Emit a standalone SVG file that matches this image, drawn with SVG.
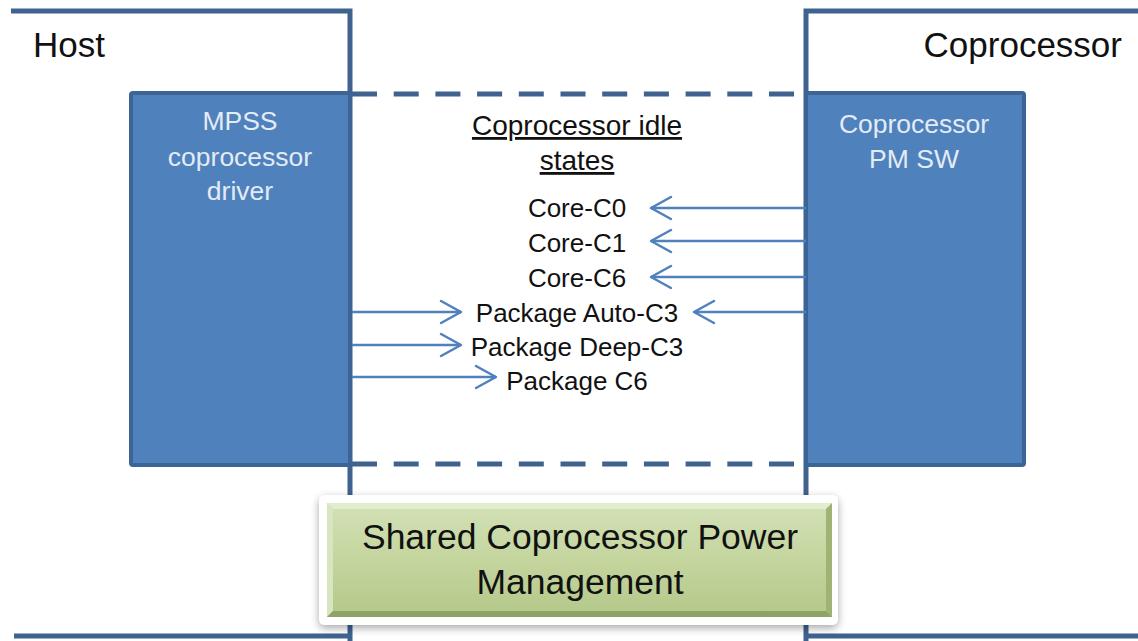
<svg xmlns="http://www.w3.org/2000/svg" width="1138" height="641" viewBox="0 0 1138 641">
<style>
.frame{fill:none;stroke:#3F628F;stroke-width:5}
.box{fill:#4F81BD;stroke:#3C6494;stroke-width:4}
.dash{fill:none;stroke:#3F628F;stroke-width:5;stroke-dasharray:25 16.7}
.conn{fill:none;stroke:#4F81BD;stroke-width:2.5}
.t{font-family:"Liberation Sans",Arial,sans-serif;fill:#111}
.w{font-family:"Liberation Sans",Arial,sans-serif;fill:#E3EBF5;font-size:26.5px;text-anchor:middle}
.m{font-family:"Liberation Sans",Arial,sans-serif;fill:#111;font-size:26px;text-anchor:middle}
</style>
<defs>
<marker id="ah" markerUnits="userSpaceOnUse" markerWidth="30" markerHeight="30" viewBox="-24 -15 28 30" refX="0" refY="0" orient="auto">
<path d="M-20,-11 L0,0 L-20,11" fill="none" stroke="#4F81BD" stroke-width="2.5" stroke-linejoin="round" stroke-linecap="round"/>
</marker>
<linearGradient id="gg" x1="0" y1="0" x2="0" y2="1">
<stop offset="0" stop-color="#D3E1B6"/>
<stop offset="0.5" stop-color="#C4D59E"/>
<stop offset="1" stop-color="#B4C88A"/>
</linearGradient>
<filter id="sh" x="-10%" y="-20%" width="120%" height="150%">
<feGaussianBlur in="SourceAlpha" stdDeviation="4"/>
<feOffset dx="0" dy="3" result="b"/>
<feComponentTransfer><feFuncA type="linear" slope="0.35"/></feComponentTransfer>
<feMerge><feMergeNode/><feMergeNode in="SourceGraphic"/></feMerge>
</filter>
</defs>
<rect width="1138" height="641" fill="#fff"/>

<g id="host">
<path class="frame" d="M11,11 H350 V641"/>
<path class="frame" d="M14,636 H350"/>
<text class="t" x="33" y="57" font-size="35">Host</text>
</g>

<g id="coprocessor">
<path class="frame" d="M1140,11 H806 V641"/>
<path class="frame" d="M806,636 H1140"/>
<text class="t" x="1122" y="57" font-size="35" text-anchor="end">Coprocessor</text>
</g>

<g id="idle-states">
<path class="dash" d="M352,94 H806"/>
<path class="dash" d="M352,464 H806"/>
<text class="t" x="577" y="135" font-size="28" text-anchor="middle" text-decoration="underline">Coprocessor idle</text>
<text class="t" x="577" y="170" font-size="28" text-anchor="middle" text-decoration="underline">states</text>
<text class="m" x="577" y="217">Core-C0</text>
<text class="m" x="577" y="252">Core-C1</text>
<text class="m" x="577" y="287">Core-C6</text>
<text class="m" x="577" y="322">Package Auto-C3</text>
<text class="m" x="577" y="356">Package Deep-C3</text>
<text class="m" x="577" y="390">Package C6</text>
</g>

<g id="mpss-driver">
<rect class="box" x="131" y="93" width="219" height="372" rx="2"/>
<text class="w" x="240" y="130">MPSS</text>
<text class="w" x="240" y="166">coprocessor</text>
<text class="w" x="240" y="200">driver</text>
</g>

<g id="pm-sw">
<rect class="box" x="806" y="93" width="218" height="372" rx="2"/>
<text class="w" x="914" y="133">Coprocessor</text>
<text class="w" x="914" y="168">PM SW</text>
</g>

<g id="connectors">
<path class="conn" d="M806,208 H651" marker-end="url(#ah)"/>
<path class="conn" d="M806,241 H651" marker-end="url(#ah)"/>
<path class="conn" d="M806,277 H651" marker-end="url(#ah)"/>
<path class="conn" d="M806,312 H694" marker-end="url(#ah)"/>
<path class="conn" d="M352,312 H461" marker-end="url(#ah)"/>
<path class="conn" d="M352,345 H461" marker-end="url(#ah)"/>
<path class="conn" d="M352,377 H496" marker-end="url(#ah)"/>
</g>

<g id="shared-pm">
<rect x="319" y="495" width="519" height="130" rx="6" fill="#fff" filter="url(#sh)"/>
<rect x="327" y="503" width="505" height="114" fill="url(#gg)"/>
<path d="M327,503 H832 L826,509 H333 Z" fill="#E2ECCE"/>
<path d="M327,503 L333,509 V611 L327,617 Z" fill="#D8E5C0"/>
<path d="M832,503 L826,509 V611 L832,617 Z" fill="#9FB374"/>
<path d="M327,617 L333,611 H826 L832,617 Z" fill="#8FA366"/>
<text class="t" x="580" y="549" font-size="35.5" text-anchor="middle">Shared Coprocessor Power</text>
<text class="t" x="580" y="594" font-size="35.5" text-anchor="middle">Management</text>
</g>
</svg>
